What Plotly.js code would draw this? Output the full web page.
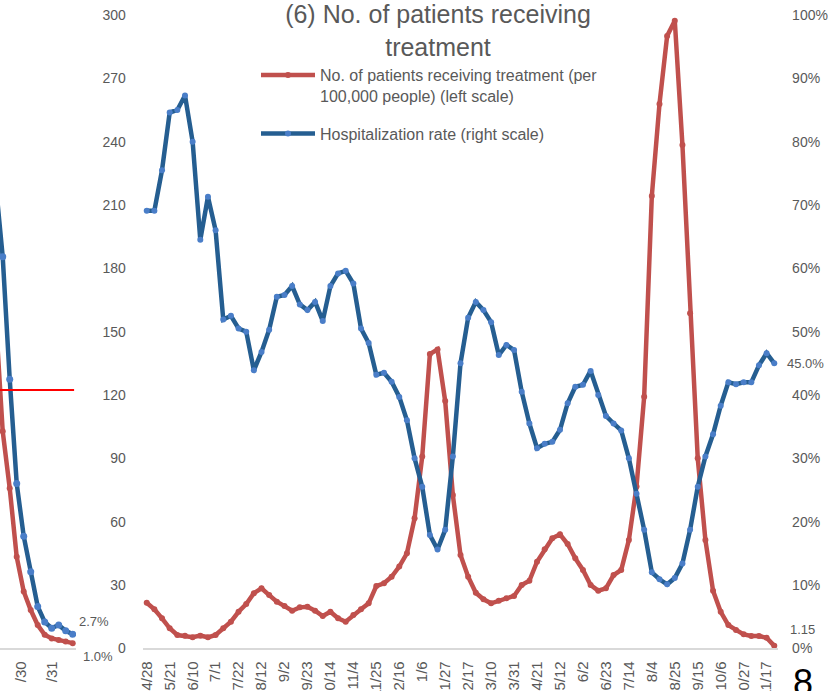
<!DOCTYPE html>
<html>
<head>
<meta charset="utf-8">
<script src="https://cdn.plot.ly/plotly-3.0.1.min.js"></script>
<style>
html,body{margin:0;padding:0;overflow:hidden;background:#ffffff;}
#chart{width:828px;height:691px;}
</style>
</head>
<body>
<div id="chart"></div>
<script>
// ---- main chart: weekly categories ----
const weeks = ['2020-04-28','2020-05-07','2020-05-14','2020-05-21','2020-05-27','2020-06-03','2020-06-10','2020-06-17','2020-06-24','2020-07-01','2020-07-08','2020-07-15','2020-07-22','2020-07-29','2020-08-05','2020-08-12','2020-08-19','2020-08-26','2020-09-02','2020-09-09','2020-09-16','2020-09-23','2020-09-30','2020-10-07','2020-10-14','2020-10-21','2020-10-28','2020-11-04','2020-11-11','2020-11-18','2020-11-25','2020-12-02','2020-12-09','2020-12-16','2020-12-23','2020-12-30','2021-01-06','2021-01-13','2021-01-20','2021-01-27','2021-02-03','2021-02-10','2021-02-17','2021-02-24','2021-03-03','2021-03-10','2021-03-17','2021-03-24','2021-03-31','2021-04-07','2021-04-14','2021-04-21','2021-04-28','2021-05-05','2021-05-12','2021-05-19','2021-05-26','2021-06-02','2021-06-09','2021-06-16','2021-06-23','2021-06-30','2021-07-07','2021-07-14','2021-07-21','2021-07-28','2021-08-04','2021-08-11','2021-08-18','2021-08-25','2021-09-01','2021-09-08','2021-09-15','2021-09-22','2021-09-29','2021-10-06','2021-10-13','2021-10-20','2021-10-27','2021-11-03','2021-11-10','2021-11-17','2021-11-24'];

const tickDates = ['2020-04-28','2020-05-21','2020-06-10','2020-07-01','2020-07-22','2020-08-12','2020-09-02','2020-09-23','2020-10-14','2020-11-04','2020-11-25','2020-12-16','2021-01-06','2021-01-27','2021-02-17','2021-03-10','2021-03-31','2021-04-21','2021-05-12','2021-06-02','2021-06-23','2021-07-14','2021-08-04','2021-08-25','2021-09-15','2021-10-06','2021-10-27','2021-11-17'];
const tickLabels = ['4/28','5/21','6/10','7/1','7/22','8/12','9/2','9/23','10/14','11/4','11/25','12/16','1/6','1/27','2/17','3/10','3/31','4/21','5/12','6/2','6/23','7/14','8/4','8/25','9/15','10/6','10/27','11/17'];

// No. of patients receiving treatment per 100,000 people (left scale)
const patients = [21.6,18.5,14.2,9.5,6.3,6.0,5.2,6.0,5.2,6.3,9.5,12.6,17.3,21.0,26.1,28.4,25.2,22.1,20.0,17.8,19.4,19.7,17.8,15.3,17.3,14.2,12.6,15.8,18.5,21.3,29.5,30.8,33.9,38.7,45.0,61.6,90.8,139.4,141.6,117.1,72.6,44.2,33.9,26.3,23.2,21.3,22.5,23.7,24.8,30.0,32.0,41.0,46.9,52.1,54.0,49.4,42.6,37.1,30.0,27.3,28.4,34.7,37.1,51.3,76.6,119.2,214.3,257.8,290.1,297.3,238.4,158.7,90.0,51.3,27.3,17.3,11.0,8.7,6.6,5.8,5.8,5.0,1.15];

// Hospitalization rate, % (right scale)
const hospRate = [69.1,69.1,75.5,84.6,85.0,87.3,80.0,64.5,71.3,66.0,51.9,52.5,50.5,50.0,43.9,46.8,50.3,55.5,55.8,57.2,54.3,53.4,54.7,51.7,57.2,59.2,59.6,57.6,50.5,48.2,43.2,43.5,42.1,39.7,36.0,30.0,25.5,17.9,15.6,18.7,30.3,45.0,52.2,54.7,53.4,51.5,46.3,47.9,47.1,40.5,35.5,31.6,32.3,32.6,34.5,38.7,41.3,41.6,43.8,40.0,36.7,35.5,34.4,30.0,24.4,18.7,12.0,10.9,10.1,11.1,13.4,18.7,25.5,30.3,33.8,38.3,42.0,41.7,42.0,42.0,44.7,46.6,45.0];

const leftTicks = [0,30,60,90,120,150,180,210,240,270,300];
const rightTicks = [0,10,20,30,40,50,60,70,80,90,100];
const rightTickText = ['0%','10%','20%','30%','40%','50%','60%','70%','80%','90%','100%'];

// ---- previous chart, only its right edge is visible ----
const prevDates = ['2021-09-05','2021-09-12','2021-09-19','2021-09-26','2021-10-03','2021-10-10','2021-10-17','2021-10-24','2021-10-31','2021-11-07','2021-11-14','2021-11-21'];
const prevBlue = [90.0,75.8,52.1,31.9,21.7,14.8,8.1,5.1,3.9,4.5,3.4,2.7];
const prevRed = [64.1,42.0,31.0,17.7,11.0,7.4,4.5,2.6,1.9,1.6,1.3,1.0];
const prevTickDates = ['2021-09-30','2021-10-31'];
const prevTickLabels = ['/30','/31'];
const prevThreshold = 50;

const W = 828, H = 691;
const SANS = '"Liberation Sans", Arial, sans-serif';
const TICKFONT = {family:SANS, size:14, color:'#595959'};
const XTICKFONT = {family:SANS, size:15, color:'#595959'};
const LABELFONT = {family:SANS, size:13, color:'#595959'};
const RED = '#C0504D', BLUE = '#255E91', BLUEDOT = '#4A7EC8';

const yDom = [(H-648.3)/H, (H-15)/H];

const traces = [
  {x: weeks, y: patients, xaxis:'x', yaxis:'y', type:'scatter', mode:'lines+markers',
   name:'No. of patients receiving treatment (per<br>100,000 people) (left scale)',
   legendgroup:'a',
   line:{color:RED, width:4.5}, marker:{color:RED, size:6}},
  {x: weeks, y: hospRate, xaxis:'x', yaxis:'y2', type:'scatter', mode:'lines+markers',
   name:'Hospitalization rate (right scale)',
   legendgroup:'b',
   line:{color:BLUE, width:4.5}, marker:{color:BLUEDOT, size:6}},
  {x: prevDates, y: prevRed, xaxis:'x2', yaxis:'y3', type:'scatter', mode:'lines+markers',
   showlegend:false, line:{color:RED, width:4.5}, marker:{color:RED, size:6}},
  {x: prevDates, y: prevBlue, xaxis:'x2', yaxis:'y3', type:'scatter', mode:'lines+markers',
   showlegend:false, line:{color:BLUE, width:4.5}, marker:{color:BLUEDOT, size:7}}
];

const lastI = weeks.length - 1;
const lastP = prevDates.length - 1;

const layout = {
  width: W, height: H,
  margin:{l:0, r:0, t:0, b:0, pad:0},
  paper_bgcolor:'#ffffff', plot_bgcolor:'rgba(0,0,0,0)',
  showlegend: true,
  font:{family:SANS, color:'#595959'},
  title:{text:'(6) No. of patients receiving<br>treatment',
    font:{family:SANS, size:25, color:'#595959'},
    x:438/W, xanchor:'center', y:1-23/H, yanchor:'top', yref:'container'},
  xaxis:{domain:[142.9/W, 778.1/W], type:'category', categoryorder:'array', categoryarray: weeks,
    range:[-0.5, weeks.length-0.5],
    tickmode:'array', tickvals: tickDates, ticktext: tickLabels, tickangle:-90,
    showgrid:false, zeroline:false, showline:true, linecolor:'#D9D9D9', linewidth:2,
    ticks:'', tickfont: XTICKFONT, ticklabelstandoff: 5, anchor:'y'},
  yaxis:{domain:yDom, range:[0,300], tickmode:'array', tickvals:leftTicks,
    showgrid:false, zeroline:false, showline:false, ticks:'', tickfont:TICKFONT,
    ticklabelstandoff: 16, anchor:'x'},
  yaxis2:{domain:yDom, range:[0,100], overlaying:'y', side:'right', anchor:'x',
    tickmode:'array', tickvals:rightTicks, ticktext:rightTickText,
    showgrid:false, zeroline:false, showline:false, ticks:'', tickfont:TICKFONT,
    ticklabelstandoff: 13},
  xaxis2:{domain:[0, 76/W], type:'date', range:['2021-09-09 07:00','2021-11-24 07:00'],
    tickmode:'array', tickvals: prevTickDates, ticktext: prevTickLabels, tickangle:-90,
    showgrid:false, zeroline:false, showline:true, linecolor:'#D9D9D9', linewidth:2,
    ticks:'', tickfont:XTICKFONT, ticklabelstandoff: 5, anchor:'y3'},
  yaxis3:{domain:yDom, range:[0, 122.6], anchor:'x2', showticklabels:false,
    showgrid:false, zeroline:false, showline:false, ticks:''},
  legend:{x:256/W, xanchor:'left', y:1-58/H, yanchor:'top', bgcolor:'rgba(0,0,0,0)',
    borderwidth:0, itemwidth:54, valign:'top', traceorder:'grouped', tracegroupgap:14,
    font:{family:SANS, size:16, color:'#595959'}},
  shapes:[
    {type:'line', xref:'x2 domain', x0:0, x1:0.975, yref:'y3', y0:prevThreshold, y1:prevThreshold,
     line:{color:'#FF0000', width:2}}
  ],
  annotations:[
    {xref:'x', yref:'y2', x: weeks[lastI], y: hospRate[lastI], text: hospRate[lastI].toFixed(1)+'%',
     showarrow:false, xanchor:'left', yanchor:'middle', xshift:11, yshift:0, font:LABELFONT},
    {xref:'x', yref:'y', x: weeks[lastI], y: patients[lastI], text: String(patients[lastI]),
     showarrow:false, xanchor:'left', yanchor:'middle', xshift:14, yshift:16, font:LABELFONT},
    {xref:'x2', yref:'y3', x: prevDates[lastP], y: prevBlue[lastP], text: prevBlue[lastP].toFixed(1)+'%',
     showarrow:false, xanchor:'left', yanchor:'middle', xshift:4, yshift:13, font:LABELFONT},
    {xref:'x2', yref:'y3', x: prevDates[lastP], y: prevRed[lastP], text: prevRed[lastP].toFixed(1)+'%',
     showarrow:false, xanchor:'left', yanchor:'middle', xshift:8, yshift:-13, font:LABELFONT},
    {xref:'paper', yref:'paper', x:803/W, y:(H-660)/H, xanchor:'center', yanchor:'top',
     text:'8', showarrow:false, font:{family:SANS, size:36, color:'#000000'}}
  ]
};

Plotly.newPlot('chart', traces, layout, {staticPlot:true, displayModeBar:false});
</script>
</body>
</html>
